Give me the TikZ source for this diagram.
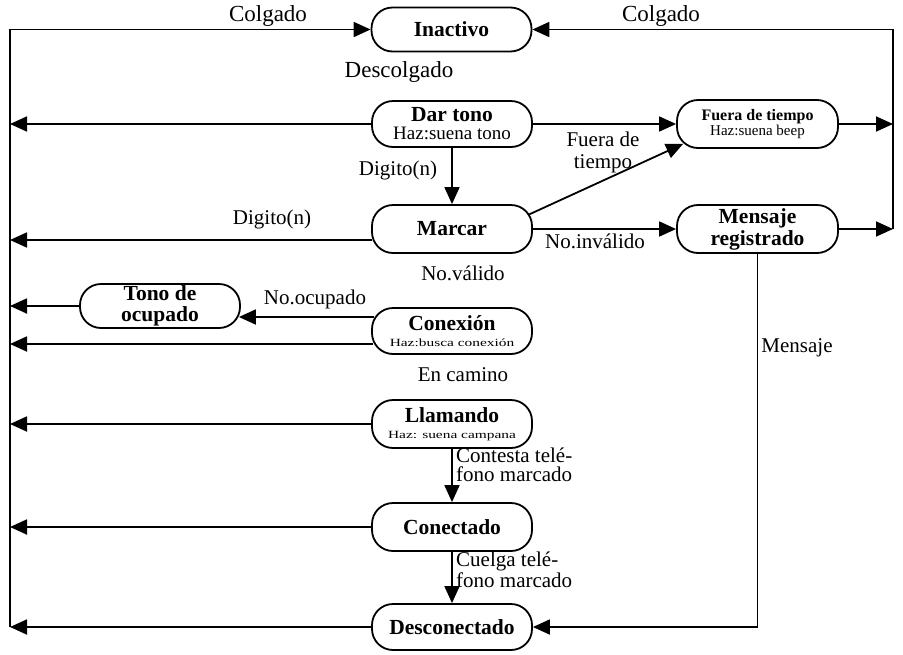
\documentclass[tikz,border=0pt]{standalone}
\usepackage{fontspec}
\setmainfont{Liberation Serif}
\usetikzlibrary{arrows.meta,calc}

\begin{document}
\begin{tikzpicture}[x=1pt,y=-1pt,
  state/.style={draw, line width=1.8pt, rounded corners=21pt,
    minimum width=160pt, minimum height=46pt, inner sep=0pt, align=center,
    font=\fontsize{21.5}{19}\selectfont\bfseries},
  link/.style={line width=1.8pt, -{Triangle[length=17pt,width=15pt]}},
  lbl/.style={font=\fontsize{21}{18}\selectfont, inner sep=0pt},
  biglbl/.style={font=\fontsize{23}{20}\selectfont, inner sep=0pt},
]
\useasboundingbox (0,0) rectangle (903,654);

% bus lines on the left and right
\coordinate (bl) at (10,0);
\coordinate (br) at (893,0);

% states
\node[state, minimum height=44pt] (ina) at (451.5,29.5) {Inactivo};
\node[state] (dar) at (452,124) {Dar tono\\[-1pt]{\mdseries\fontsize{19}{18}\selectfont Haz:suena tono}};
\node[state, minimum width=161pt, minimum height=48pt,
      font=\fontsize{16}{16}\selectfont\bfseries] (fue) at (757.5,124)
      {Fuera de tiempo\\[-1pt]{\mdseries\fontsize{15}{15}\selectfont Haz:suena beep}};
\node[state, minimum height=48pt] (mar) at (452,229) {Marcar};
\node[state, minimum width=161pt, minimum height=48pt] (men) at (757.5,229) {Mensaje\\[1.5pt]registrado};
\node[state, minimum height=44pt] (ton) at (160,306) {Tono de\\[1.5pt]ocupado};
\node[state] (con) at (452,331)
      {Conexión\\[-3pt]{\mdseries\fontsize{11}{11}\selectfont\scalebox{1.4}[1]{Haz:busca conexión}}};
\node[state, minimum height=48pt] (lla) at (452,424)
      {Llamando\\[-3pt]{\mdseries\fontsize{11}{11}\selectfont\scalebox{1.4}[1]{Haz: suena campana}}};
\node[state, minimum height=48pt] (cnt) at (452,527) {Conectado};
\node[state] (des) at (452,627) {Desconectado};

% hang-up returns to the idle state
\draw[link] (bl |- des.west) -- (bl |- ina.west) -- (ina.west);
\draw[link] (br |- men.east) -- (br |- ina.east) -- (ina.east);

% transitions into the left bus
\draw[link] (dar.west) -- (dar.west -| bl);
\coordinate (marL) at ($(mar.west)+(1,11)$);
\draw[link] (marL) -- (marL -| bl);
\draw[link] (ton.west) -- (ton.west -| bl);
\coordinate (conL) at ($(con.west)+(2,13)$);
\draw[link] (conL) -- (conL -| bl);
\draw[link] (lla.west) -- (lla.west -| bl);
\draw[link] (cnt.west) -- (cnt.west -| bl);
\draw[link] (des.west) -- (des.west -| bl);

% transitions into the right bus
\draw[link] (fue.east) -- (fue.east -| br);
\draw[link] (men.east) -- (men.east -| br);

% other transitions
\draw[link] (dar.east) -- (dar.east -| fue.west);
\draw[link] (dar.south) -- (mar.north);
\draw[link] ($(mar.east)+(-5,-14)$) -- ($(fue.south west)+(7,-5)$);
\draw[link] (mar.east) -- (men.west);
\coordinate (conU) at ($(con.west)+(3,-14)$);
\draw[link] (conU) -- ($(ton.east)+(-2,11)$);
\draw[link] (lla.south) -- (cnt.north);
\draw[link] (cnt.south) -- (des.north);
\draw[link] (men.south) -- (men.south |- des.east) -- (des.east);

% labels
\node[biglbl] (colL) at (268,16) {Colgado};
\node[biglbl] (colR) at (661,16) {Colgado};
\node[biglbl] (desc) at (399,72) {Descolgado};
\node[lbl] (dig1) at (398,170) {Digito(n)};
\node[lbl, align=center, font=\fontsize{21}{22}\selectfont] (fdt) at (603,152) {Fuera de\\tiempo};
\node[lbl] (dig2) at (272,219) {Digito(n)};
\node[lbl] (noinv) at (595,241) {No.inválido};
\node[lbl] (noval) at (463,273) {No.válido};
\node[lbl] (nocup) at (315,299) {No.ocupado};
\node[lbl] (encam) at (463,375) {En camino};
\node[lbl] (mens) at (797,348) {Mensaje};
\node[lbl, anchor=north west, align=left, font=\fontsize{21}{19}\selectfont] (cont) at (456,448) {Contesta telé-\\fono marcado};
\node[lbl, anchor=north west, align=left, font=\fontsize{21}{19}\selectfont] (cuel) at (456,552) {Cuelga telé-\\fono marcado};
\end{tikzpicture}
\end{document}
